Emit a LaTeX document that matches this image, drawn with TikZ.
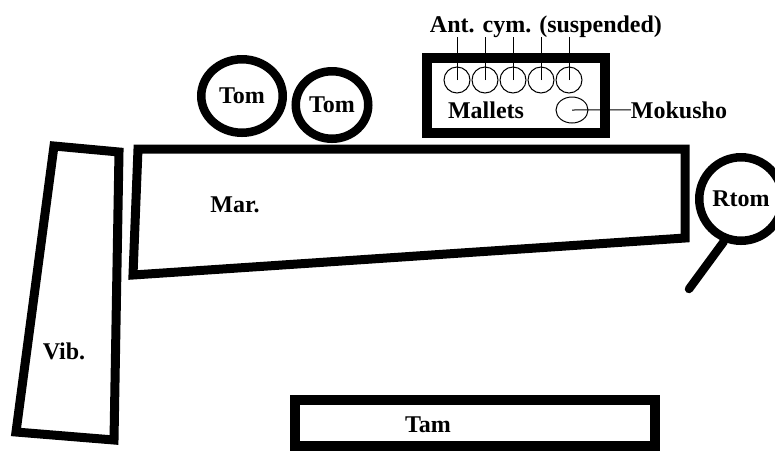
\documentclass[tikz,border=0pt]{standalone}
\usepackage{fontspec}
\setmainfont{Liberation Serif}
\usetikzlibrary{shapes.geometric, positioning}

\begin{document}
\begin{tikzpicture}[
    x=1pt, y=-1pt,
    frame/.style={rectangle, draw=black, line width=10pt, inner sep=0pt},
    drum/.style={ellipse, draw=black, line width=8.5pt, inner sep=0pt,
                 font=\fontsize{24}{28}\selectfont\bfseries},
    cym/.style={circle, draw=black, line width=1pt, minimum size=26pt, inner sep=0pt},
    slab/.style={draw=black, line width=9pt, line join=miter},
    handle/.style={draw=black, line width=8.5pt, line cap=round},
    thin/.style={draw=black, line width=1pt},
    lbl/.style={font=\fontsize{24}{28}\selectfont\bfseries, inner sep=0pt, anchor=base}
]
\useasboundingbox (0,0) rectangle (775,451);

% Vibrafon
\draw[slab] (54,146) -- (119,152) -- (114,440) -- (16,432) -- cycle;
\node[lbl] (vib) at (64,359) {Vib.};

% Marimba
\draw[slab] (138,149) -- (685,149) -- (685,238) -- (133,275) -- cycle;
\node[lbl] (mar) at (235,212) {Mar.};

% Toms
\node[drum, minimum width=81.5pt, minimum height=73.5pt] (tom1) at (242,96) {Tom};
\node[drum, minimum width=72.5pt, minimum height=67.5pt] (tom2) at (332,105) {Tom};

% Roto-tom mit Griff
\node[drum, minimum width=83.5pt, minimum height=83.5pt] (rtom) at (741,199) {Rtom};
\coordinate (grip) at (689,289);
\draw[handle] (rtom.-112) -- (grip);

% Mallets-Tisch
\node[frame, minimum width=178pt, minimum height=75pt] (mallbox) at (516,95.5) {};
\node[lbl] (mallets) at (486,118) {Mallets};

% Antike Zimbeln
\node[lbl] (ant) at (546,32) {Ant. cym. (suspended)};
\foreach \i in {1,...,5} {
    \node[cym] (c\i) at (429+28*\i,80) {};
    \draw[thin] (c\i.center) -- (c\i.center |- ant.south);
}

% Mokusho
\node[ellipse, thin, minimum width=32pt, minimum height=26pt, inner sep=0pt] (mok) at (572,110) {};
\node[lbl] (moku) at (679,118) {Mokusho};
\draw[thin] (mok.center) -- (moku.west);

% Tam-tam
\node[frame, minimum width=360pt, minimum height=46pt] (tambox) at (475,423) {};
\node[lbl] (tam) at (428,432) {Tam};

\end{tikzpicture}
\end{document}
